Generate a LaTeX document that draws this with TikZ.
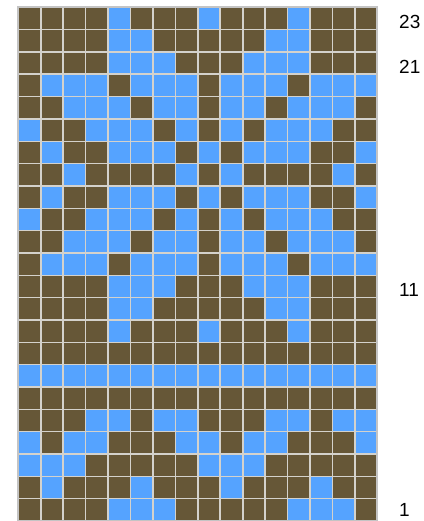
\documentclass[tikz,border=0pt]{standalone}
\usepackage{fontspec}
\setmainfont{Liberation Sans}
\definecolor{knitbrown}{RGB}{102,87,55}
\definecolor{knitblue}{RGB}{85,163,255}
\definecolor{gridline}{RGB}{212,210,204}
\definecolor{gridborder}{RGB}{196,196,196}
\begin{document}
\begin{tikzpicture}[x=1pt,y=1pt,
  rowlabel/.style={anchor=west,inner sep=0pt,font=\fontsize{19}{19}\selectfont},
  cellB/.style={fill=knitbrown},
  cellL/.style={fill=knitblue}]
\useasboundingbox (0,0) rectangle (423,521);
\def\cw{22.44}
\def\ch{22.335}
\def\gx{18.3}
\def\gt{513.7}
\foreach \rowdata [count=\ri] in {
 {1,1,1,1,0,1,1,1,0,1,1,1,0,1,1,1},
 {1,1,1,1,0,0,1,1,1,1,1,0,0,1,1,1},
 {1,1,1,1,0,0,0,1,1,1,0,0,0,1,1,1},
 {1,0,0,0,1,0,0,0,1,0,0,0,1,0,0,0},
 {1,1,0,0,0,1,0,0,1,0,0,1,0,0,0,1},
 {0,1,1,0,0,0,1,0,1,0,1,0,0,0,1,1},
 {1,0,1,1,0,0,0,1,0,1,0,0,0,1,1,0},
 {1,1,0,1,1,1,1,0,1,0,1,1,1,1,0,1},
 {1,0,1,1,0,0,0,1,0,1,0,0,0,1,1,0},
 {0,1,1,0,0,0,1,0,1,0,1,0,0,0,1,1},
 {1,1,0,0,0,1,0,0,1,0,0,1,0,0,0,1},
 {1,0,0,0,1,0,0,0,1,0,0,0,1,0,0,0},
 {1,1,1,1,0,0,0,1,1,1,0,0,0,1,1,1},
 {1,1,1,1,0,0,1,1,1,1,1,0,0,1,1,1},
 {1,1,1,1,0,1,1,1,0,1,1,1,0,1,1,1},
 {1,1,1,1,1,1,1,1,1,1,1,1,1,1,1,1},
 {0,0,0,0,0,0,0,0,0,0,0,0,0,0,0,0},
 {1,1,1,1,1,1,1,1,1,1,1,1,1,1,1,1},
 {1,1,1,0,0,1,0,0,1,1,1,0,0,1,0,0},
 {0,1,0,0,1,1,1,0,0,1,0,0,1,1,1,0},
 {0,0,0,1,1,1,1,1,0,0,0,1,1,1,1,1},
 {1,0,1,1,1,0,1,1,1,0,1,1,1,0,1,1},
 {1,1,1,1,0,0,0,1,1,1,1,1,0,0,0,1}}{
  \foreach \v [count=\ci] in \rowdata {
    \ifnum\v=1 \def\cst{cellB}\else\def\cst{cellL}\fi
    \path[\cst] ({\gx+(\ci-1)*\cw},{\gt-\ri*\ch}) rectangle ++(\cw,\ch);
  }
}
\foreach \i in {1,...,15}
  \draw[gridline,line width=1.6pt] ({\gx+\i*\cw},{\gt}) -- ++(0,{-23*\ch});
\foreach \i in {1,...,22}
  \draw[gridline,line width=1.6pt] ({\gx},{\gt-\i*\ch}) -- ++({16*\cw},0);
\draw[gridborder,line width=1.8pt] ({\gx},{\gt}) rectangle ++({16*\cw},{-23*\ch});
\node[rowlabel] (l23) at (399,{\gt-0.5*\ch-3.5}) {23};
\node[rowlabel] (l21) at (399,{\gt-2.5*\ch-3.5}) {21};
\node[rowlabel] (l11) at (399,{\gt-12.5*\ch-3.5}) {11};
\node[rowlabel] (l1) at (399,11) {1};
\end{tikzpicture}
\end{document}
